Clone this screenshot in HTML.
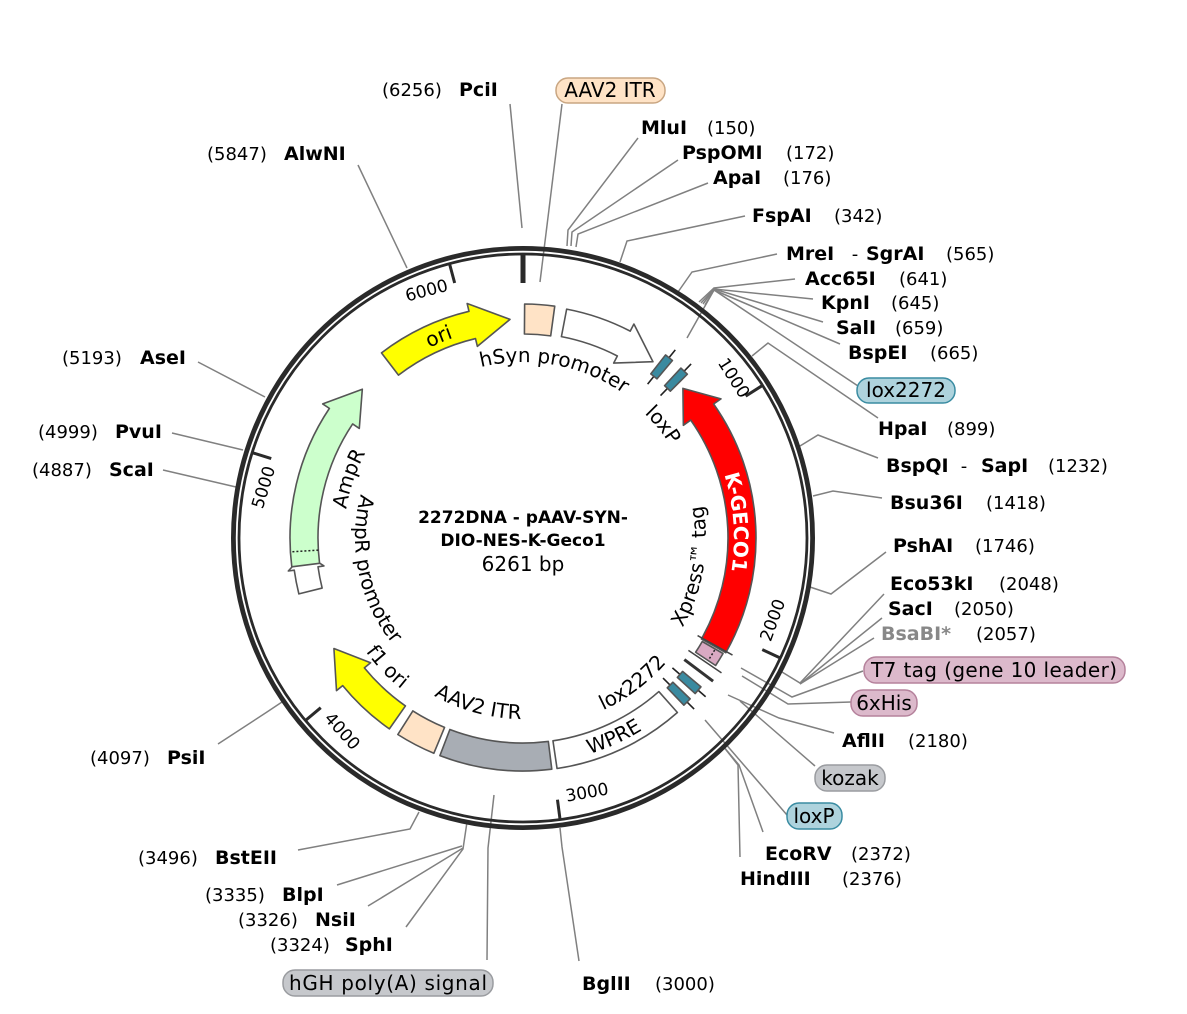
<!DOCTYPE html>
<html><head><meta charset="utf-8"><style>
html,body{margin:0;padding:0;background:#fff;}
svg{display:block;font-family:"DejaVu Sans","Liberation Sans",sans-serif;}
.b{font-weight:bold;font-size:19px;fill:#000;}
.n{font-size:18px;fill:#000;}
.l{stroke:#808080;stroke-width:1.5;fill:none;}
.ft{font-size:20px;fill:#000;}
.tk{font-size:17px;fill:#000;}
</style></head><body>
<svg id="s" width="1187" height="1014" viewBox="0 0 1187 1014" xmlns="http://www.w3.org/2000/svg">
<defs>
<path id="tp_hsyn"/><path id="tp_ori"/><path id="tp_loxp"/><path id="tp_kgeco"/><path id="tp_xpress"/>
<path id="tp_lox2272"/><path id="tp_wpre"/><path id="tp_aav"/><path id="tp_f1"/><path id="tp_amppro"/><path id="tp_ampr"/>
</defs>
<g class="l">
<polyline points="510,104 522,228"/>
<polyline points="562,104 540,282"/>
<polyline points="638,138 568,230 567,246"/>
<polyline points="678,160 572,232 571,246"/>
<polyline points="708,183 578,234 576,247"/>
<polyline points="745,216 627,241 620,262"/>
<polyline points="777,254 692,272 678,292"/>
<polyline points="795,279 714,288 699,302"/>
<polyline points="813,299 714,289 701,303"/>
<polyline points="823,322 714,289 703,304"/>
<polyline points="840,344 714,290 705,305"/>
<polyline points="858,386 714,290 687,338"/>
<polyline points="878,418 768,343 752,356"/>
<polyline points="878,458 818,435 800,446"/>
<polyline points="882,498 833,491 813,496"/>
<polyline points="886,552 831,594 810,587"/>
<polyline points="884,594 800,683 782,672"/>
<polyline points="882,618 800,684"/>
<polyline points="874,638 800,684"/>
<polyline points="863,671 792,697 741,668"/>
<polyline points="851,702 788,704 742,676"/>
<polyline points="834,733 779,718 728,695"/>
<polyline points="815,766 740,701"/>
<polyline points="787,815 705,720"/>
<polyline points="763,832 739,765 723,746"/>
<polyline points="740,857 738,765 723,746"/>
<polyline points="579,961 562,847 560,828"/>
<polyline points="487,960 488,848 494,795"/>
<polyline points="406,927 463,849 467,822"/>
<polyline points="368,906 463,848"/>
<polyline points="337,885 462,846"/>
<polyline points="298,850 410,829 419,812"/>
<polyline points="218,744 267,712 282,702"/>
<polyline points="163,470 236,487"/>
<polyline points="172,433 243,450"/>
<polyline points="198,362 265,397"/>
<polyline points="358,165 407,268"/>
</g>
<circle cx="523" cy="538" r="289.6" fill="none" stroke="#2a2a2a" stroke-width="4.8"/>
<circle cx="523" cy="538" r="284" fill="none" stroke="#2a2a2a" stroke-width="2.8"/>
<g id="feat"></g>
<text x="523" y="523" text-anchor="middle" style="font-weight:bold;font-size:17px">2272DNA - pAAV-SYN-</text>
<text x="523" y="546" text-anchor="middle" style="font-weight:bold;font-size:17px">DIO-NES-K-Geco1</text>
<text x="523" y="571" text-anchor="middle" style="font-size:20px">6261 bp</text>
<text class="tk" text-anchor="middle" transform="translate(729,381) rotate(57.5)">1000</text>
<text class="tk" text-anchor="middle" transform="translate(778,622) rotate(-70)">2000</text>
<text class="tk" text-anchor="middle" transform="translate(588,798) rotate(-10)">3000</text>
<text class="tk" text-anchor="middle" transform="translate(338,735) rotate(48)">4000</text>
<text class="tk" text-anchor="middle" transform="translate(269,489) rotate(-73)">5000</text>
<text class="tk" text-anchor="middle" transform="translate(428,296) rotate(-15)">6000</text>
<text class="ft"><textPath href="#tp_hsyn" startOffset="50%" text-anchor="middle">hSyn promoter</textPath></text>
<text class="ft"><textPath href="#tp_ori" startOffset="50%" text-anchor="middle">ori</textPath></text>
<text class="ft"><textPath href="#tp_loxp" startOffset="50%" text-anchor="middle">loxP</textPath></text>
<text class="ft" style="fill:#fff;font-weight:bold"><textPath href="#tp_kgeco" startOffset="50%" text-anchor="middle">K-GECO1</textPath></text>
<text class="ft"><textPath href="#tp_xpress" startOffset="50%" text-anchor="middle">Xpress™ tag</textPath></text>
<text class="ft"><textPath href="#tp_lox2272" startOffset="50%" text-anchor="middle">lox2272</textPath></text>
<text class="ft"><textPath href="#tp_wpre" startOffset="50%" text-anchor="middle">WPRE</textPath></text>
<text class="ft"><textPath href="#tp_aav" startOffset="50%" text-anchor="middle">AAV2 ITR</textPath></text>
<text class="ft"><textPath href="#tp_f1" startOffset="50%" text-anchor="middle">f1 ori</textPath></text>
<text class="ft"><textPath href="#tp_amppro" startOffset="50%" text-anchor="middle">AmpR promoter</textPath></text>
<text class="ft"><textPath href="#tp_ampr" startOffset="50%" text-anchor="middle">AmpR</textPath></text>
<text x="641" y="134"><tspan class="b">MluI</tspan><tspan class="n" x="707">(150)</tspan></text>
<text x="682" y="159"><tspan class="b">PspOMI</tspan><tspan class="n" x="786">(172)</tspan></text>
<text x="713" y="184"><tspan class="b">ApaI</tspan><tspan class="n" x="783">(176)</tspan></text>
<text x="752" y="222"><tspan class="b">FspAI</tspan><tspan class="n" x="834">(342)</tspan></text>
<text x="786" y="260"><tspan class="b">MreI</tspan><tspan class="n" x="846"> - </tspan><tspan class="b" x="866">SgrAI</tspan><tspan class="n" x="946">(565)</tspan></text>
<text x="805" y="285"><tspan class="b">Acc65I</tspan><tspan class="n" x="899">(641)</tspan></text>
<text x="821" y="309"><tspan class="b">KpnI</tspan><tspan class="n" x="891">(645)</tspan></text>
<text x="836" y="334"><tspan class="b">SalI</tspan><tspan class="n" x="895">(659)</tspan></text>
<text x="848" y="359"><tspan class="b">BspEI</tspan><tspan class="n" x="930">(665)</tspan></text>
<rect x="857" y="378" width="98" height="25" rx="12" fill="#aed3dd" stroke="#3a8ca2" stroke-width="1.5"/>
<text x="906" y="397" text-anchor="middle" class="ft">lox2272</text>
<text x="878" y="435"><tspan class="b">HpaI</tspan><tspan class="n" x="947">(899)</tspan></text>
<text x="886" y="472"><tspan class="b">BspQI</tspan><tspan class="n" x="955"> - </tspan><tspan class="b" x="981">SapI</tspan><tspan class="n" x="1048">(1232)</tspan></text>
<text x="890" y="509"><tspan class="b">Bsu36I</tspan><tspan class="n" x="986">(1418)</tspan></text>
<text x="893" y="552"><tspan class="b">PshAI</tspan><tspan class="n" x="975">(1746)</tspan></text>
<text x="890" y="590"><tspan class="b">Eco53kI</tspan><tspan class="n" x="999">(2048)</tspan></text>
<text x="888" y="615"><tspan class="b">SacI</tspan><tspan class="n" x="954">(2050)</tspan></text>
<text x="881" y="640"><tspan class="b" style="fill:#888">BsaBI*</tspan><tspan class="n" x="976">(2057)</tspan></text>
<rect x="864" y="657" width="261" height="26" rx="12" fill="#dcb9cb" stroke="#b5829c" stroke-width="1.5"/>
<text x="994" y="677" text-anchor="middle" class="ft" textLength="246">T7 tag (gene 10 leader)</text>
<rect x="851" y="690" width="66" height="26" rx="12" fill="#dcb9cb" stroke="#b5829c" stroke-width="1.5"/>
<text x="884" y="710" text-anchor="middle" class="ft">6xHis</text>
<text x="842" y="747"><tspan class="b">AflII</tspan><tspan class="n" x="908">(2180)</tspan></text>
<rect x="815" y="765" width="70" height="26" rx="12" fill="#c6c8cc" stroke="#9a9ca0" stroke-width="1.5"/>
<text x="850" y="785" text-anchor="middle" class="ft">kozak</text>
<rect x="787" y="803" width="55" height="26" rx="12" fill="#aed3dd" stroke="#3a8ca2" stroke-width="1.5"/>
<text x="814" y="823" text-anchor="middle" class="ft">loxP</text>
<text x="765" y="860"><tspan class="b">EcoRV</tspan><tspan class="n" x="851">(2372)</tspan></text>
<text x="740" y="885"><tspan class="b">HindIII</tspan><tspan class="n" x="842">(2376)</tspan></text>
<text x="582" y="990"><tspan class="b">BglII</tspan><tspan class="n" x="655">(3000)</tspan></text>
<rect x="283" y="970" width="210" height="26" rx="12" fill="#c6c8cc" stroke="#9a9ca0" stroke-width="1.5"/>
<text x="388" y="990" text-anchor="middle" class="ft" textLength="198">hGH poly(A) signal</text>
<text x="382" y="96"><tspan class="n">(6256)</tspan><tspan class="b" x="459">PciI</tspan></text>
<rect x="556" y="78" width="109" height="25" rx="12" fill="#ffe3c6" stroke="#c9a682" stroke-width="1.5"/>
<text x="610" y="97" text-anchor="middle" class="ft">AAV2 ITR</text>
<text x="207" y="160"><tspan class="n">(5847)</tspan><tspan class="b" x="284">AlwNI</tspan></text>
<text x="62" y="364"><tspan class="n">(5193)</tspan><tspan class="b" x="140">AseI</tspan></text>
<text x="38" y="438"><tspan class="n">(4999)</tspan><tspan class="b" x="115">PvuI</tspan></text>
<text x="32" y="476"><tspan class="n">(4887)</tspan><tspan class="b" x="109">ScaI</tspan></text>
<text x="90" y="764"><tspan class="n">(4097)</tspan><tspan class="b" x="167">PsiI</tspan></text>
<text x="138" y="864"><tspan class="n">(3496)</tspan><tspan class="b" x="215">BstEII</tspan></text>
<text x="205" y="901"><tspan class="n">(3335)</tspan><tspan class="b" x="282">BlpI</tspan></text>
<text x="238" y="926"><tspan class="n">(3326)</tspan><tspan class="b" x="315">NsiI</tspan></text>
<text x="270" y="951"><tspan class="n">(3324)</tspan><tspan class="b" x="345">SphI</tspan></text>
<script>
(function(){
var cx=523,cy=538,NS="http://www.w3.org/2000/svg";
function P(a,r){var t=a*Math.PI/180;return (cx+r*Math.sin(t)).toFixed(2)+","+(cy-r*Math.cos(t)).toFixed(2);}
function A(r,a1,a2,sw){var lg=Math.abs(a2-a1)>180?1:0;return " A"+r+","+r+" 0 "+lg+" "+sw+" "+P(a2,r);}
function box(a1,a2,r1,r2){return "M"+P(a1,r2)+A(r2,a1,a2,1)+" L"+P(a2,r1)+A(r1,a2,a1,0)+" Z";}
function acw(a1,a2,r1,r2,h,e){var hb=a2-h,m=(r1+r2)/2;return "M"+P(a1,r2)+A(r2,a1,hb,1)+" L"+P(hb,r2+e)+" L"+P(a2,m)+" L"+P(hb,r1-e)+" L"+P(hb,r1)+A(r1,hb,a1,0)+" Z";}
function accw(a1,a2,r1,r2,h,e){var hb=a1+h,m=(r1+r2)/2;return "M"+P(a2,r2)+A(r2,a2,hb,0)+" L"+P(hb,r2+e)+" L"+P(a1,m)+" L"+P(hb,r1-e)+" L"+P(hb,r1)+A(r1,hb,a2,1)+" Z";}
var g=document.getElementById("feat");
function add(tag,attrs){var el=document.createElementNS(NS,tag);for(var k in attrs)el.setAttribute(k,attrs[k]);g.appendChild(el);return el;}
var st="#555";
function path(d,fill){add("path",{d:d,fill:fill,stroke:st,"stroke-width":1.6,"stroke-linejoin":"round"});}
function line(a,r1,r2,w,c){var p1=P(a,r1).split(","),p2=P(a,r2).split(",");add("line",{x1:p1[0],y1:p1[1],x2:p2[0],y2:p2[1],stroke:c||"#222","stroke-width":w});}
line(0,255,283,5,"#2a2a2a");
[57.5,115,172.5,230,287.5,345].forEach(function(a){line(a,264,283,3,"#2a2a2a");});
path(acw(322.6,356.6,205,233,10,8),"#ffff00");
path(box(0.4,7.8,204,234),"#ffe3c6");
path(acw(10.8,36.4,205,233,9,8),"#ffffff");
path(accw(46.9,119.5,205,233,8,9),"#ff0000");
path(box(138.5,171.6,205,233),"#ffffff");
path(box(172.9,200.9,205,233),"#a8adb4");
path(box(202.5,212.5,205,233),"#ffe3c6");
path(acw(215,239.7,205,233,9,8),"#ffff00");
path(acw(256,266,207,231,4,6),"#ffffff");
path(acw(262.9,312.8,205,233,9,8),"#ccffcc");
(function(){var p1=P(266.6,205).split(","),p2=P(266.6,233).split(",");add("line",{x1:p1[0],y1:p1[1],x2:p2[0],y2:p2[1],stroke:"#222","stroke-width":1.5,"stroke-dasharray":"2,2"});})();
line(119.2,200,240,1.5,"#444");line(124.2,200,240,1.5,"#444");
path(box(120,123.5,207,231),"#d9a9c2");
add("path",{d:"M"+P(120.3,222)+A(222,120.3,123.2,1),fill:"none",stroke:"#222","stroke-width":1.5,"stroke-dasharray":"2,2"});
line(127,202,238,3,"#333");
function lox(a){line(a,198,242,1.6,"#222");var w=2.2;path(box(a-w/2,a+w/2,208,232),"#3a8aa0");}
lox(39);lox(44);lox(131);lox(135);
function tp(id,m,r,cw){var s=60,d;if(cw)d="M"+P(m-s,r)+" A"+r+","+r+" 0 0 1 "+P(m+s,r);else d="M"+P(m+s,r)+" A"+r+","+r+" 0 0 0 "+P(m-s,r);document.getElementById(id).setAttribute("d",d);}
tp("tp_hsyn",10.5,176,1);
tp("tp_ori",-22.7,212,1);
tp("tp_loxp",51,174,1);
tp("tp_kgeco",85.8,211,1);
tp("tp_xpress",99.5,183,0);
tp("tp_lox2272",143,190,0);
tp("tp_wpre",155.5,226,0);
tp("tp_aav",195,181,0);
tp("tp_f1",226.5,194,0);
tp("tp_amppro",258,168,0);
tp("tp_ampr",288.8,179,1);
})();
</script>
</svg>
</body></html>
